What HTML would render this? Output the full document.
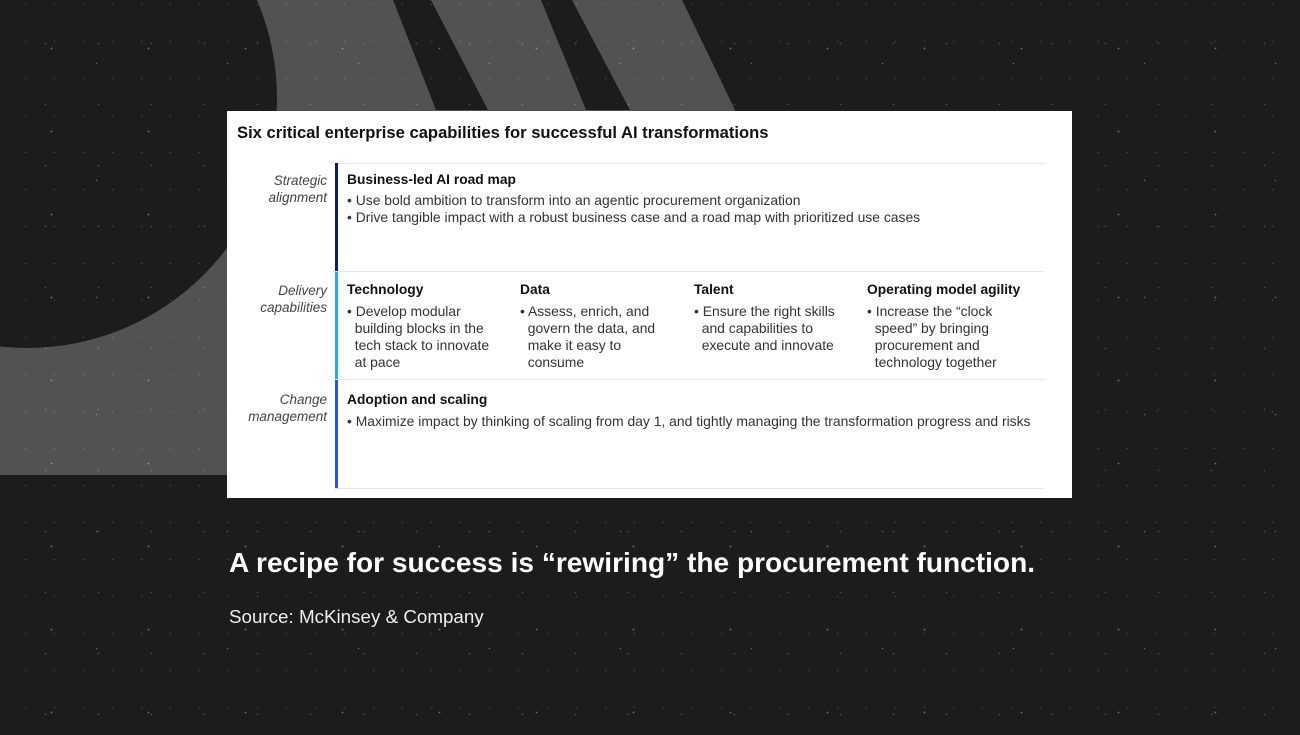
<!DOCTYPE html>
<html><head><meta charset="utf-8"><style>
html,body{margin:0;padding:0}
body{width:1300px;height:735px;overflow:hidden;position:relative;background:#1c1c1d;font-family:"Liberation Sans",Arial,sans-serif}
.stars{position:absolute;inset:0;background-image:
radial-gradient(circle,rgba(255,255,255,.35) 0.7px,transparent 1.1px),
radial-gradient(circle,rgba(255,255,255,.22) 0.6px,transparent 1px),
radial-gradient(circle,rgba(255,255,255,.3) 0.6px,transparent 1px),
radial-gradient(circle,rgba(255,255,255,.2) 0.5px,transparent 0.9px);
background-size:97px 83px,53px 61px,131px 117px,29px 37px;background-position:3px 7px,19px 13px,31px 5px,11px 23px}
svg.bg{position:absolute;left:0;top:0}
.card{position:absolute;left:227px;top:111px;width:845px;height:387px;background:#fff}
.title{position:absolute;left:10px;top:12px;font-size:16.6px;font-weight:bold;color:#111;white-space:nowrap}
.hr{position:absolute;left:108px;width:709px;height:1px;background:#e6e6e6}
.bar{position:absolute;left:108px;width:3px}
.lab{position:absolute;right:745px;text-align:right;font-style:italic;font-size:13.5px;line-height:17px;color:#444;white-space:nowrap}
.h{position:absolute;font-weight:bold;font-size:13.8px;color:#111;white-space:nowrap}
.b{position:absolute;font-size:13.9px;line-height:17px;color:#333;white-space:nowrap}
.cap{position:absolute;left:229px;top:547px;color:#fff;font-weight:bold;font-size:28.1px;white-space:nowrap}
.src{position:absolute;left:229px;top:606px;color:#eee;font-size:18.8px;white-space:nowrap}
</style></head><body>
<svg class="bg" width="1300" height="735">
<rect x="0" y="0" width="760" height="475" fill="#525252"/>
<polygon points="682,0 760,0 760,475 735,110" fill="#1c1c1d"/>
<polygon points="393,0 431,0 488,110 436,110" fill="#1c1c1d"/>
<polygon points="541,0 572,0 630,110 586,110" fill="#1c1c1d"/>
<circle cx="27" cy="98" r="250" fill="#1c1c1d"/>
</svg>
<div class="stars"></div>
<div class="card">
<div class="title">Six critical enterprise capabilities for successful AI transformations</div>
<div class="hr" style="top:52px"></div>
<div class="hr" style="top:160px"></div>
<div class="hr" style="top:268px"></div>
<div class="hr" style="top:377px"></div>
<div class="bar" style="top:52px;height:108px;background:#0b1e6e"></div>
<div class="bar" style="top:161px;height:107px;background:#1ab0f0"></div>
<div class="bar" style="top:269px;height:108px;background:#2251ff"></div>

<div class="lab" style="top:61px">Strategic<br>alignment</div>
<div class="h" style="left:120px;top:61px">Business-led AI road map</div>
<div class="b" style="left:120px;top:81px">• Use bold ambition to transform into an agentic procurement organization<br>• Drive tangible impact with a robust business case and a road map with prioritized use cases</div>

<div class="lab" style="top:171px">Delivery<br>capabilities</div>
<div class="h" style="left:120px;top:171px">Technology</div>
<div class="b" style="left:120px;top:192px">• Develop modular<br>&nbsp;&nbsp;building blocks in the<br>&nbsp;&nbsp;tech stack to innovate<br>&nbsp;&nbsp;at pace</div>
<div class="h" style="left:293px;top:171px">Data</div>
<div class="b" style="left:293px;top:192px">• Assess, enrich, and<br>&nbsp;&nbsp;govern the data, and<br>&nbsp;&nbsp;make it easy to<br>&nbsp;&nbsp;consume</div>
<div class="h" style="left:467px;top:171px">Talent</div>
<div class="b" style="left:467px;top:192px">• Ensure the right skills<br>&nbsp;&nbsp;and capabilities to<br>&nbsp;&nbsp;execute and innovate</div>
<div class="h" style="left:640px;top:171px">Operating model agility</div>
<div class="b" style="left:640px;top:192px">• Increase the “clock<br>&nbsp;&nbsp;speed” by bringing<br>&nbsp;&nbsp;procurement and<br>&nbsp;&nbsp;technology together</div>

<div class="lab" style="top:280px">Change<br>management</div>
<div class="h" style="left:120px;top:281px">Adoption and scaling</div>
<div class="b" style="left:120px;top:302px">• Maximize impact by thinking of scaling from day 1, and tightly managing the transformation progress and risks</div>
</div>
<div class="cap">A recipe for success is “rewiring” the procurement function.</div>
<div class="src">Source: McKinsey &amp; Company</div>
</body></html>
